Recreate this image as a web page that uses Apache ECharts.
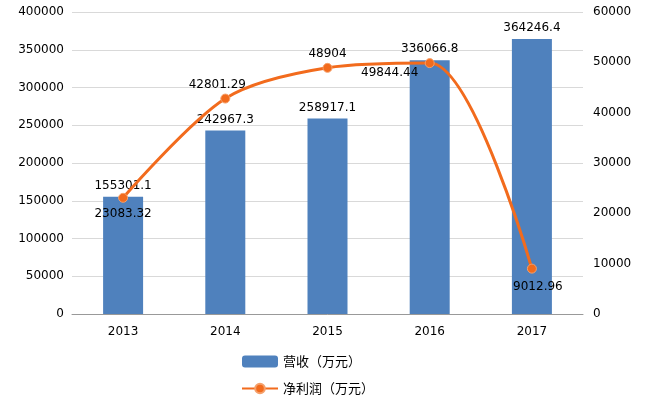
<!DOCTYPE html>
<html><head><meta charset="utf-8">
<script src="https://cdn.jsdelivr.net/npm/echarts@6/dist/echarts.min.js"></script>
<style>body{margin:0}#c{width:663px;height:408px}</style>
</head><body><div id="c"></div>
<script>
var years = ['2013','2014','2015','2016','2017'];
var revenue = [155301.1, 242967.3, 258917.1, 336066.8, 364246.4];
var profit = [23083.32, 42801.29, 48904, 49844.44, 9012.96];
var profitLabelPos = [[0,16],[-8,-14],[0,-14],[-40,10],[6,18]];

var font = 'DejaVu Sans';
var plain = function (v) { return String(v); };
var chart = echarts.init(document.getElementById('c'));
chart.setOption({
  textStyle: {fontFamily: font, color: '#000'},
  grid: {left: 72, right: 80, top: 12, bottom: 94},
  legend: {
    orient: 'vertical', left: 236, top: 350, itemGap: 14, itemWidth: 36, itemHeight: 12,
    textStyle: {fontFamily: 'Noto Sans CJK SC', fontSize: 13, color: '#000'},
    data: ['营收（万元）', '净利润（万元）']
  },
  xAxis: {
    type: 'category', data: years,
    axisLine: {lineStyle: {color: '#999'}}, axisTick: {show: false},
    axisLabel: {color: '#000', fontSize: 12, margin: 12}
  },
  yAxis: [
    {type: 'value', min: 0, max: 400000, interval: 50000,
     axisLine: {show: false}, axisTick: {show: false},
     axisLabel: {color: '#000', fontSize: 12, margin: 8, formatter: plain},
     splitLine: {lineStyle: {color: '#d9d9d9'}}},
    {type: 'value', min: 0, max: 60000, interval: 10000,
     axisLine: {show: false}, axisTick: {show: false},
     axisLabel: {color: '#000', fontSize: 12, margin: 10, formatter: plain},
     splitLine: {show: false}}
  ],
  series: [
    {name: '营收（万元）', type: 'bar', barWidth: 40, data: revenue,
     itemStyle: {color: '#4f81bd'},
     label: {show: true, position: 'top', color: '#000', fontSize: 12}},
    {name: '净利润（万元）', type: 'line', yAxisIndex: 1, smooth: 0.3,
     symbol: 'circle', symbolSize: 9,
     lineStyle: {color: '#f26b1d', width: 3},
     itemStyle: {color: '#f26b1d', borderColor: '#f5a06b', borderWidth: 1},
     data: profit.map(function (v, i) {
       return {value: v, label: {show: true, offset: profitLabelPos[i], position: 'inside', color: '#000', fontSize: 12}};
     })}
  ]
});
</script></body></html>
